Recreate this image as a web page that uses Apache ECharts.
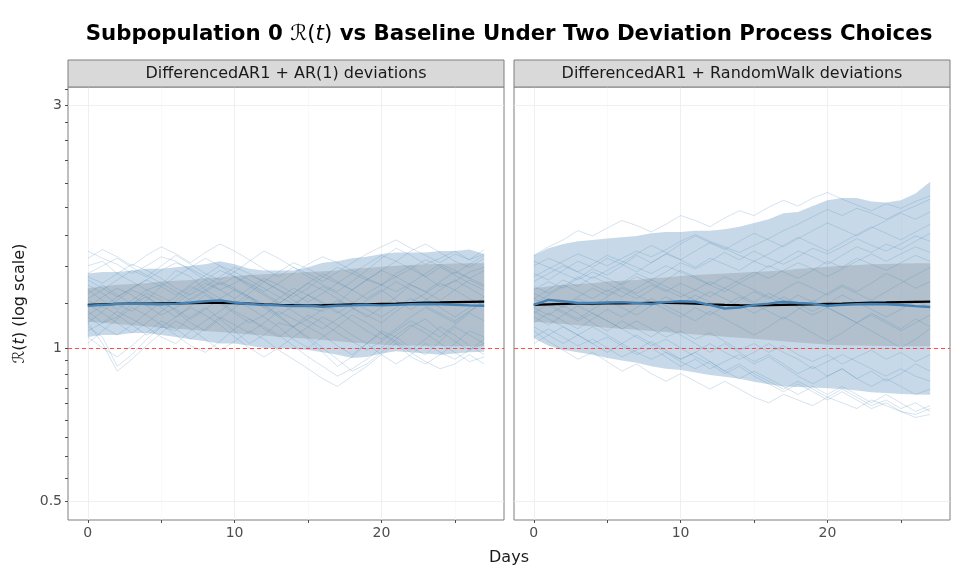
<!DOCTYPE html>
<html><head><meta charset="utf-8">
<script src="https://cdn.jsdelivr.net/npm/echarts@6/dist/echarts.min.js"></script>
<style>html,body{margin:0;padding:0;background:#fff}#c{width:960px;height:576px}</style>
</head><body><div id="c"></div>
<script>
const days = [0,1,2,3,4,5,6,7,8,9,10,11,12,13,14,15,16,17,18,19,20,21,22,23,24,25,26,27];
const panelTitles = ['DifferencedAR1 + AR(1) deviations', 'DifferencedAR1 + RandomWalk deviations'];
const xLabelTicks = [0, 10, 20];
const xAllTicks = [0, 5, 10, 15, 20, 25];
const yLabelTicks = [0.5, 1, 3];

// Baseline (shared) median and band
const baseMedian = [1.215,1.218,1.22,1.222,1.222,1.223,1.224,1.225,1.226,1.226,1.225,1.222,1.218,1.215,1.213,1.212,1.213,1.215,1.217,1.218,1.22,1.222,1.225,1.227,1.228,1.23,1.232,1.233];
const baseUpper = [1.31,1.32,1.33,1.335,1.34,1.35,1.355,1.36,1.37,1.375,1.385,1.39,1.395,1.40,1.405,1.41,1.415,1.42,1.43,1.435,1.444,1.45,1.455,1.46,1.462,1.465,1.466,1.467];
const baseLower = [1.126,1.12,1.114,1.108,1.102,1.096,1.09,1.085,1.08,1.074,1.069,1.063,1.058,1.052,1.047,1.042,1.036,1.031,1.025,1.02,1.014,1.012,1.011,1.01,1.009,1.008,1.008,1.008];

// Panel 1: AR(1) deviations
const ar1Median = [1.21,1.215,1.22,1.222,1.22,1.218,1.222,1.228,1.235,1.24,1.228,1.22,1.215,1.212,1.208,1.21,1.205,1.21,1.212,1.215,1.212,1.215,1.218,1.22,1.218,1.215,1.212,1.21];
const ar1Upper = [1.40,1.41,1.41,1.42,1.43,1.43,1.44,1.45,1.46,1.48,1.46,1.43,1.42,1.42,1.42,1.44,1.47,1.48,1.50,1.51,1.53,1.54,1.54,1.54,1.55,1.55,1.56,1.53];
const ar1Lower = [1.05,1.06,1.06,1.07,1.07,1.06,1.05,1.04,1.03,1.02,1.02,1.01,1.00,1.00,0.995,0.99,0.98,0.97,0.955,0.96,0.975,0.985,0.98,0.975,0.97,0.975,0.98,0.983];
const ar1Draws = [
[1.45,1.48,1.40,1.35,1.30,1.33,1.42,1.38,1.30,1.25,1.22,1.28,1.35,1.30,1.24,1.20,1.18,1.22,1.30,1.36,1.33,1.40,1.45,1.38,1.32,1.35,1.41,1.44],
[1.10,1.05,0.92,0.97,1.04,1.10,1.08,1.15,1.20,1.14,1.08,1.02,1.06,1.12,1.10,1.04,0.98,0.92,0.96,1.02,1.08,1.05,1.00,0.97,1.03,1.10,1.06,1.02],
[1.25,1.30,1.36,1.42,1.38,1.45,1.52,1.46,1.40,1.36,1.41,1.48,1.55,1.50,1.44,1.38,1.33,1.29,1.35,1.42,1.50,1.57,1.52,1.46,1.50,1.55,1.49,1.53],
[1.18,1.12,1.15,1.22,1.28,1.24,1.18,1.12,1.08,1.14,1.20,1.26,1.22,1.16,1.10,1.05,1.00,0.95,0.90,0.93,0.98,1.04,1.10,1.14,1.08,1.03,0.99,1.02],
[1.33,1.28,1.22,1.18,1.24,1.32,1.38,1.44,1.50,1.45,1.38,1.32,1.27,1.22,1.28,1.34,1.30,1.25,1.20,1.15,1.20,1.26,1.33,1.29,1.24,1.30,1.36,1.32],
[1.08,1.12,1.18,1.14,1.10,1.05,1.02,1.08,1.13,1.18,1.24,1.20,1.15,1.10,1.04,1.00,1.05,1.10,1.16,1.12,1.07,1.02,0.96,0.93,0.97,1.02,1.08,1.05],
[1.55,1.50,1.46,1.40,1.45,1.51,1.48,1.42,1.36,1.30,1.34,1.39,1.35,1.30,1.26,1.31,1.38,1.44,1.40,1.36,1.42,1.48,1.55,1.60,1.54,1.48,1.44,1.50],
[1.20,1.26,1.31,1.27,1.21,1.16,1.20,1.25,1.30,1.35,1.31,1.26,1.20,1.15,1.10,1.14,1.19,1.24,1.20,1.16,1.12,1.18,1.23,1.28,1.34,1.30,1.25,1.21],
[1.02,1.08,1.14,1.20,1.16,1.11,1.06,1.01,0.98,1.03,1.09,1.14,1.10,1.06,1.01,0.96,0.92,0.88,0.91,0.95,1.00,1.06,1.11,1.07,1.02,0.98,0.94,0.96],
[1.38,1.34,1.40,1.46,1.42,1.37,1.31,1.27,1.32,1.38,1.44,1.40,1.35,1.41,1.47,1.43,1.38,1.34,1.40,1.46,1.52,1.48,1.43,1.38,1.44,1.39,1.34,1.30],
[1.15,1.10,1.06,1.11,1.17,1.23,1.19,1.14,1.19,1.25,1.30,1.26,1.21,1.16,1.21,1.27,1.23,1.18,1.13,1.08,1.04,1.09,1.15,1.20,1.16,1.12,1.18,1.23],
[1.28,1.33,1.27,1.22,1.26,1.20,1.15,1.21,1.27,1.22,1.17,1.12,1.16,1.22,1.28,1.34,1.40,1.35,1.30,1.25,1.30,1.24,1.19,1.24,1.30,1.36,1.31,1.26],
[1.22,1.17,1.12,1.07,1.12,1.18,1.24,1.30,1.36,1.42,1.38,1.33,1.28,1.23,1.18,1.13,1.09,1.14,1.19,1.24,1.29,1.35,1.30,1.25,1.20,1.15,1.20,1.26],
[1.12,1.18,1.24,1.30,1.26,1.21,1.26,1.32,1.28,1.23,1.18,1.14,1.09,1.05,1.10,1.16,1.12,1.07,1.03,0.99,1.03,1.08,1.13,1.09,1.05,1.11,1.17,1.13],
[1.30,1.24,1.19,1.24,1.30,1.26,1.22,1.28,1.34,1.30,1.25,1.31,1.37,1.33,1.28,1.23,1.28,1.34,1.30,1.36,1.42,1.38,1.33,1.29,1.35,1.41,1.37,1.42],
[1.05,1.00,0.96,1.01,1.07,1.13,1.09,1.04,1.09,1.15,1.11,1.07,1.12,1.18,1.14,1.10,1.06,1.01,0.97,1.02,1.07,1.03,0.99,1.04,1.10,1.06,1.01,0.97],
[1.40,1.45,1.50,1.44,1.39,1.34,1.29,1.24,1.29,1.34,1.30,1.25,1.20,1.25,1.31,1.27,1.22,1.17,1.22,1.28,1.33,1.29,1.34,1.40,1.46,1.42,1.37,1.33],
[1.24,1.20,1.26,1.31,1.36,1.32,1.27,1.33,1.39,1.45,1.41,1.36,1.31,1.26,1.22,1.27,1.32,1.28,1.23,1.19,1.15,1.20,1.25,1.21,1.17,1.13,1.18,1.24],
[1.16,1.21,1.16,1.11,1.06,1.10,1.15,1.20,1.16,1.11,1.05,1.00,0.96,1.00,1.05,1.10,1.15,1.11,1.06,1.02,0.97,0.93,0.97,1.02,0.98,0.95,0.99,1.04],
[1.36,1.31,1.26,1.31,1.36,1.42,1.47,1.43,1.38,1.33,1.38,1.34,1.29,1.34,1.40,1.46,1.51,1.47,1.42,1.37,1.33,1.38,1.43,1.49,1.45,1.40,1.46,1.52],
[1.12,1.02,0.90,0.95,1.01,1.07,1.13,1.09,1.04,0.99,1.03,1.08,1.04,0.99,0.95,0.91,0.87,0.84,0.88,0.92,0.97,1.02,0.98,0.94,0.91,0.93,0.97,0.93],
[1.50,1.56,1.51,1.45,1.52,1.58,1.53,1.47,1.54,1.60,1.55,1.49,1.43,1.38,1.44,1.40,1.35,1.41,1.47,1.53,1.58,1.63,1.57,1.52,1.47,1.53,1.49,1.56]
];

// Panel 2: RandomWalk deviations
const rwMedian = [1.215,1.243,1.235,1.225,1.226,1.228,1.23,1.225,1.22,1.23,1.235,1.232,1.215,1.195,1.2,1.215,1.222,1.232,1.225,1.222,1.21,1.215,1.218,1.22,1.218,1.214,1.208,1.203];
const rwUpper = [1.52,1.57,1.60,1.62,1.63,1.64,1.65,1.66,1.68,1.69,1.69,1.70,1.70,1.71,1.73,1.76,1.79,1.84,1.85,1.90,1.95,1.97,1.97,1.94,1.93,1.95,2.01,2.12];
const rwLower = [1.045,1.01,0.99,0.98,0.97,0.955,0.945,0.935,0.92,0.91,0.905,0.895,0.885,0.878,0.87,0.858,0.848,0.84,0.838,0.836,0.833,0.83,0.825,0.818,0.815,0.812,0.81,0.809];
const rwDraws = [
[1.52,1.58,1.63,1.70,1.66,1.72,1.78,1.74,1.69,1.75,1.82,1.78,1.73,1.80,1.86,1.82,1.89,1.95,1.90,1.97,2.02,1.96,1.91,1.86,1.92,1.88,1.94,1.99],
[1.08,1.03,0.99,0.95,0.98,0.94,0.90,0.93,0.89,0.86,0.89,0.86,0.83,0.86,0.83,0.80,0.78,0.81,0.79,0.77,0.80,0.78,0.76,0.79,0.77,0.75,0.74,0.76],
[1.30,1.35,1.31,1.37,1.43,1.39,1.45,1.52,1.47,1.53,1.60,1.66,1.61,1.56,1.62,1.68,1.63,1.58,1.64,1.70,1.76,1.71,1.66,1.72,1.78,1.84,1.79,1.85],
[1.20,1.16,1.21,1.17,1.12,1.08,1.13,1.09,1.05,1.10,1.06,1.02,0.98,1.02,0.98,0.94,0.97,0.93,0.89,0.92,0.88,0.91,0.87,0.84,0.87,0.84,0.81,0.83],
[1.40,1.36,1.42,1.48,1.44,1.50,1.46,1.41,1.47,1.53,1.49,1.44,1.50,1.46,1.42,1.48,1.44,1.49,1.55,1.51,1.46,1.52,1.58,1.54,1.60,1.56,1.62,1.68],
[1.12,1.17,1.13,1.09,1.14,1.19,1.15,1.20,1.25,1.21,1.17,1.13,1.18,1.14,1.10,1.06,1.10,1.15,1.11,1.07,1.03,1.07,1.12,1.08,1.04,1.00,1.04,1.09],
[1.25,1.30,1.36,1.32,1.38,1.34,1.29,1.25,1.30,1.36,1.42,1.38,1.33,1.29,1.34,1.30,1.26,1.22,1.27,1.23,1.28,1.33,1.29,1.34,1.40,1.36,1.31,1.35],
[1.18,1.14,1.10,1.06,1.02,1.05,1.01,0.97,1.00,0.96,0.92,0.95,0.91,0.94,0.97,0.93,0.96,0.92,0.88,0.85,0.88,0.91,0.87,0.90,0.86,0.89,0.93,0.90],
[1.45,1.50,1.46,1.41,1.37,1.42,1.47,1.53,1.59,1.54,1.49,1.55,1.61,1.57,1.52,1.48,1.53,1.59,1.65,1.60,1.55,1.61,1.67,1.73,1.68,1.63,1.69,1.75],
[1.05,1.09,1.05,1.01,1.04,1.00,0.96,0.99,1.03,0.99,0.95,0.98,0.94,0.90,0.93,0.89,0.86,0.83,0.86,0.83,0.80,0.83,0.80,0.77,0.79,0.76,0.78,0.75],
[1.28,1.24,1.20,1.25,1.21,1.26,1.31,1.27,1.23,1.19,1.15,1.20,1.16,1.21,1.26,1.22,1.18,1.14,1.19,1.24,1.20,1.16,1.12,1.17,1.13,1.09,1.14,1.10],
[1.35,1.40,1.45,1.41,1.46,1.52,1.48,1.44,1.40,1.45,1.41,1.37,1.33,1.38,1.34,1.39,1.45,1.41,1.37,1.42,1.48,1.44,1.50,1.46,1.42,1.47,1.52,1.48],
[1.15,1.11,1.16,1.21,1.17,1.13,1.09,1.13,1.09,1.05,1.08,1.04,1.07,1.03,0.99,1.02,0.98,1.01,0.97,0.94,0.97,0.93,0.96,0.99,0.95,0.98,0.94,0.97],
[1.22,1.27,1.32,1.38,1.33,1.29,1.34,1.40,1.36,1.41,1.47,1.43,1.48,1.54,1.49,1.55,1.50,1.46,1.51,1.57,1.53,1.58,1.64,1.59,1.55,1.60,1.66,1.62],
[1.10,1.06,1.02,1.06,1.10,1.06,1.02,0.98,0.95,0.98,0.94,0.91,0.94,0.90,0.87,0.90,0.87,0.84,0.81,0.84,0.81,0.84,0.81,0.78,0.81,0.78,0.75,0.77],
[1.32,1.28,1.33,1.29,1.25,1.30,1.26,1.31,1.36,1.32,1.28,1.24,1.29,1.25,1.21,1.17,1.21,1.26,1.22,1.18,1.22,1.27,1.23,1.19,1.15,1.19,1.24,1.20],
[1.48,1.44,1.40,1.36,1.41,1.37,1.33,1.38,1.34,1.30,1.26,1.30,1.35,1.31,1.27,1.23,1.28,1.24,1.20,1.16,1.20,1.16,1.12,1.16,1.12,1.08,1.12,1.16],
[1.20,1.25,1.21,1.26,1.31,1.27,1.32,1.28,1.33,1.29,1.34,1.30,1.26,1.31,1.36,1.41,1.37,1.42,1.47,1.43,1.38,1.43,1.48,1.53,1.48,1.53,1.58,1.54],
[1.02,1.06,1.10,1.06,1.02,0.98,1.02,1.06,1.02,0.98,0.95,0.98,1.02,0.98,0.95,0.98,1.02,0.98,0.95,0.91,0.94,0.97,0.94,0.91,0.88,0.91,0.88,0.86],
[1.38,1.43,1.48,1.53,1.49,1.45,1.50,1.55,1.51,1.56,1.62,1.67,1.62,1.58,1.54,1.59,1.64,1.70,1.75,1.81,1.87,1.82,1.88,1.84,1.79,1.85,1.90,1.96],
[1.25,1.21,1.17,1.13,1.17,1.13,1.09,1.05,1.01,1.04,1.00,0.96,0.93,0.89,0.92,0.88,0.85,0.82,0.85,0.82,0.79,0.82,0.79,0.76,0.78,0.75,0.73,0.74],
[1.17,1.22,1.18,1.14,1.19,1.24,1.20,1.16,1.21,1.26,1.22,1.27,1.23,1.19,1.24,1.29,1.25,1.30,1.35,1.31,1.27,1.32,1.28,1.24,1.29,1.34,1.39,1.44]
];

// minor ticks: 9 equal linear steps between consecutive labelled breaks
const yAllTicks = [];
for (let k = 0; k < 9; k++) yAllTicks.push(0.5 + k * 0.5 / 9);
for (let k = 0; k < 9; k++) yAllTicks.push(1 + k * 2 / 9);
yAllTicks.push(3, 3 + 2 / 9);

const FONT = 'DejaVu Sans';
const STEEL = '#4682b4';
const panels = [
  {median: ar1Median, upper: ar1Upper, lower: ar1Lower, draws: ar1Draws},
  {median: rwMedian, upper: rwUpper, lower: rwLower, draws: rwDraws}
];
const pairs = v => days.map((d, i) => [d, v[i]]);

function band(g, lo, hi, color, z) {
  return {
    type: 'custom', xAxisIndex: g, yAxisIndex: g, z: z, silent: true, clip: true,
    data: [[0, 1]],
    renderItem: function (params, api) {
      const pts = [];
      for (let i = 0; i < days.length; i++) pts.push(api.coord([days[i], hi[i]]));
      for (let i = days.length - 1; i >= 0; i--) pts.push(api.coord([days[i], lo[i]]));
      return {type: 'polygon', shape: {points: pts}, style: {fill: color}};
    }
  };
}

const grids = [], xAxes = [], yAxes = [], series = [];
const lefts = [68, 514];
panels.forEach((p, g) => {
  grids.push({left: lefts[g], top: 87, width: 436, height: 433, show: true,
    borderColor: '#7f7f7f', borderWidth: 1, backgroundColor: '#fff', containLabel: false});
  xAxes.push({type: 'value', gridIndex: g, min: -1.35, max: 28.35,
    axisLine: {show: false, onZero: false},
    axisTick: {show: true, customValues: xAllTicks, length: 3, lineStyle: {color: '#4d4d4d', width: 1}},
    axisLabel: {customValues: xLabelTicks, color: '#4d4d4d', fontSize: 14, fontFamily: FONT, margin: 6},
    splitLine: {show: false}});
  yAxes.push({type: 'log', logBase: 10, gridIndex: g, min: 0.459, max: 3.256,
    axisLine: {show: false, onZero: false},
    axisTick: {show: g === 0, customValues: yAllTicks, length: 3, lineStyle: {color: '#4d4d4d', width: 1}},
    axisLabel: {show: g === 0, customValues: yLabelTicks, color: '#4d4d4d', fontSize: 14, fontFamily: FONT, margin: 6,
      formatter: v => String(+(+v).toFixed(2))},
    splitLine: {show: false}, minorTick: {show: false},
    name: g === 0 ? '{r|ℛ(}{i|t}{r|) (log scale)}' : '',
    nameLocation: 'middle', nameGap: 40, nameRotate: 90,
    nameTextStyle: {fontFamily: FONT, fontSize: 16, color: '#1a1a1a',
      rich: {r: {fontFamily: FONT, fontSize: 16, color: '#1a1a1a'}, i: {fontFamily: FONT, fontSize: 16, fontStyle: 'italic', color: '#1a1a1a'}}}});

  // faint grid lines
  const gridLines = [];
  xLabelTicks.forEach(v => gridLines.push({xAxis: v, lineStyle: {color: '#ececec', width: 0.8, type: 'solid'}}));
  [5, 15, 25].forEach(v => gridLines.push({xAxis: v, lineStyle: {color: '#f5f5f5', width: 0.6, type: 'solid'}}));
  yLabelTicks.forEach(v => gridLines.push({yAxis: v, lineStyle: {color: '#ececec', width: 0.8, type: 'solid'}}));
  series.push({type: 'line', xAxisIndex: g, yAxisIndex: g, z: 0, data: [], silent: true,
    markLine: {silent: true, z: 0, symbol: 'none', label: {show: false}, animation: false, data: gridLines}});

  series.push(band(g, p.lower, p.upper, 'rgba(70,130,180,0.30)', 1));
  series.push(band(g, baseLower, baseUpper, 'rgba(120,125,130,0.27)', 2));

  p.draws.forEach(d => series.push({type: 'line', xAxisIndex: g, yAxisIndex: g, z: 3, data: pairs(d),
    showSymbol: false, silent: true, animation: false,
    lineStyle: {color: STEEL, width: 0.85, opacity: 0.27}}));

  series.push({type: 'line', xAxisIndex: g, yAxisIndex: g, z: 4, data: pairs(baseMedian),
    showSymbol: false, silent: true, animation: false, lineStyle: {color: '#000', width: 2.3}});
  series.push({type: 'line', xAxisIndex: g, yAxisIndex: g, z: 5, data: pairs(p.median),
    showSymbol: false, silent: true, animation: false, lineStyle: {color: STEEL, width: 2.4}});
  series.push({type: 'line', xAxisIndex: g, yAxisIndex: g, z: 6, data: [], silent: true,
    markLine: {silent: true, z: 6, symbol: 'none', label: {show: false}, animation: false,
      data: [{yAxis: 1, lineStyle: {color: '#ff3b3b', width: 0.9, type: [4, 3]}}]}});
});

const graphics = [];
panelTitles.forEach((t, g) => {
  graphics.push({type: 'rect', shape: {x: lefts[g], y: 60, width: 436, height: 27},
    style: {fill: '#d9d9d9', stroke: '#7f7f7f', lineWidth: 1}, z: 10});
  graphics.push({type: 'text', x: lefts[g] + 218, y: 74, z: 11,
    style: {text: t, fill: '#1a1a1a', font: '16px "DejaVu Sans"', textAlign: 'center', textVerticalAlign: 'middle'}});
});
graphics.push({type: 'text', x: 509, y: 558, z: 11,
  style: {text: 'Days', fill: '#1a1a1a', font: '16px "DejaVu Sans"', textAlign: 'center', textVerticalAlign: 'middle'}});

const chart = echarts.init(document.getElementById('c'), null, {renderer: 'canvas'});
chart.setOption({
  animation: false,
  backgroundColor: '#fff',
  title: {
    text: '{b|Subpopulation 0 }{m|ℛ(}{it|t}{m|)}{b| vs Baseline Under Two Deviation Process Choices}',
    left: 504, top: 19, textAlign: 'center',
    textStyle: {fontFamily: FONT, fontSize: 21.3, fontWeight: 'bold', color: '#000',
      rich: {
        b: {fontFamily: FONT, fontSize: 21.3, fontWeight: 'bold', color: '#000'},
        m: {fontFamily: FONT, fontSize: 21.3, fontWeight: 'normal', color: '#000'},
        it: {fontFamily: FONT, fontSize: 21.3, fontWeight: 'normal', fontStyle: 'italic', color: '#000'}
      }}
  },
  grid: grids, xAxis: xAxes, yAxis: yAxes, series: series, graphic: graphics
});
</script>
</body></html>
